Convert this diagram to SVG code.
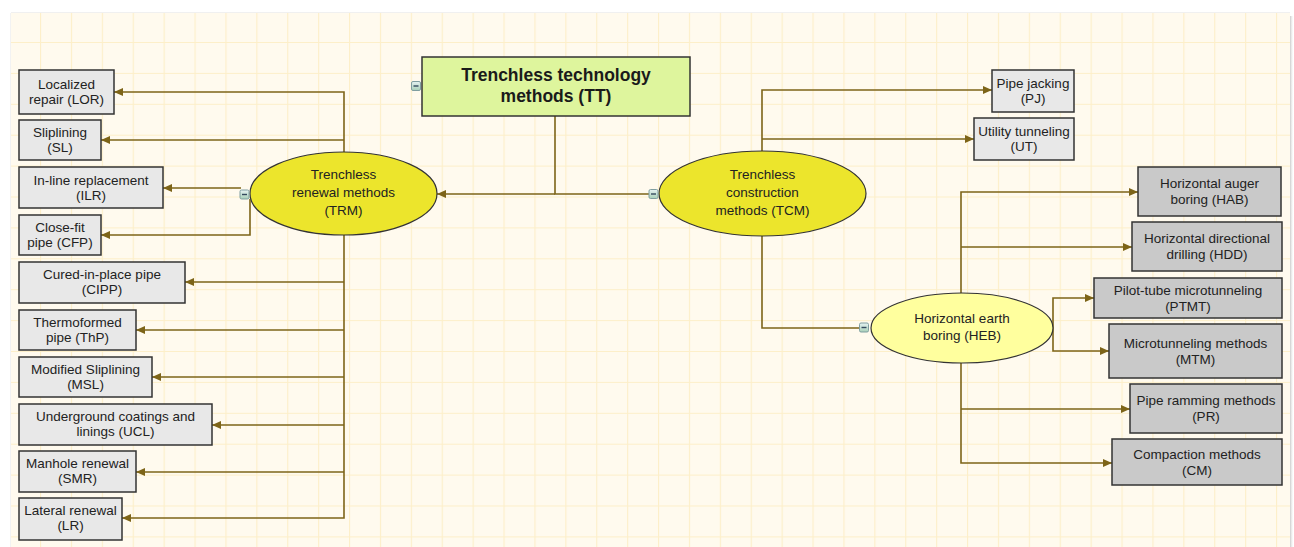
<svg xmlns="http://www.w3.org/2000/svg" width="1294" height="547" viewBox="0 0 1294 547">
<defs>
<pattern id="grid" x="40" y="42" width="30.9" height="30.9" patternUnits="userSpaceOnUse">
<rect width="30.9" height="30.9" fill="#fffaee"/>
<path d="M0.5,0 V30.9 M0,0.5 H30.9" stroke="#fdefc9" stroke-width="1.2" fill="none"/>
</pattern>
<linearGradient id="shadowR" x1="0" y1="0" x2="1" y2="0">
<stop offset="0" stop-color="#8a8a8a"/>
<stop offset="1" stop-color="#ffffff" stop-opacity="0"/>
</linearGradient>
<linearGradient id="icon" x1="0" y1="0" x2="0" y2="1">
<stop offset="0" stop-color="#e6f2f2"/>
<stop offset="1" stop-color="#a8d0b8"/>
</linearGradient>
<marker id="arr" markerWidth="10" markerHeight="9" refX="9" refY="4" orient="auto" markerUnits="userSpaceOnUse">
<path d="M0,0 L9,4 L0,8 z" fill="#7d6418"/>
</marker>
<g id="minus">
<rect x="-4.5" y="-4.5" width="9" height="9" rx="1.5" fill="url(#icon)" stroke="#7f9ea0" stroke-width="1"/>
<path d="M-2.5,0 H2.5" stroke="#34495e" stroke-width="1.4"/>
</g>
</defs>
<style>
.box{fill:#e8e8e8;stroke:#333;stroke-width:1.5}
.dbox{fill:#c9c9c9;stroke:#333;stroke-width:1.5}
.t{font-family:"Liberation Sans",Arial,sans-serif;font-size:13.5px;fill:#222;text-anchor:middle}
.tt{font-family:"Liberation Sans",Arial,sans-serif;font-size:17.5px;font-weight:bold;fill:#1a1a1a;text-anchor:middle}
.c{fill:none;stroke:#7d6418;stroke-width:1.6}
.ca{fill:none;stroke:#7d6418;stroke-width:1.6;marker-end:url(#arr)}
</style>
<rect width="1294" height="547" fill="#ffffff"/>
<rect x="1288" y="16" width="6" height="531" fill="url(#shadowR)"/>
<rect x="11" y="12" width="1279" height="2" fill="#f0f0f0"/>
<rect x="10" y="13" width="1" height="534" fill="#f2f2f2"/>
<rect x="11" y="13" width="1279" height="534" fill="url(#grid)"/>

<g id="connectors">
<path class="c" d="M555,116 V194 H650"/>
<path class="ca" d="M555,194 H437"/>
<path class="ca" d="M344,152 V92 H114"/>
<path class="ca" d="M344,140 H101"/>
<path class="ca" d="M241,188 H163"/>
<path class="ca" d="M250,199 V235 H101"/>
<path class="ca" d="M344,235 V518 H122"/>
<path class="ca" d="M344,282 H185"/>
<path class="ca" d="M344,330 H136"/>
<path class="ca" d="M344,377 H152"/>
<path class="ca" d="M344,425 H212"/>
<path class="ca" d="M344,472 H136"/>
<path class="ca" d="M762,151 V90 H992"/>
<path class="ca" d="M762,139 H974"/>
<path class="c" d="M762,236 V328 H860"/>
<path class="ca" d="M961,293 V192 H1138"/>
<path class="ca" d="M961,247 H1132"/>
<path class="ca" d="M1053,328 V298 H1094"/>
<path class="ca" d="M1053,328 V351 H1109"/>
<path class="ca" d="M961,363 V463 H1112"/>
<path class="ca" d="M961,409 H1130"/>
</g>

<g id="TT">
<rect x="422" y="57" width="268" height="59" fill="#def59d" stroke="#333" stroke-width="1.5"/>
<text class="tt" x="556" y="81">Trenchless technology</text>
<text class="tt" x="556" y="102">methods (TT)</text>
<use href="#minus" x="416" y="86"/>
</g>

<g id="TRM">
<ellipse cx="343.5" cy="193.5" rx="93.5" ry="41.5" fill="#ece52c" stroke="#333" stroke-width="1.2"/>
<text class="t" x="343.5" y="179">Trenchless</text>
<text class="t" x="343.5" y="197">renewal methods</text>
<text class="t" x="343.5" y="215">(TRM)</text>
<use href="#minus" x="244.5" y="194.5"/>
</g>

<g id="TCM">
<ellipse cx="762.5" cy="193.5" rx="103.5" ry="42.5" fill="#ece52c" stroke="#333" stroke-width="1.2"/>
<text class="t" x="762.5" y="179">Trenchless</text>
<text class="t" x="762.5" y="197">construction</text>
<text class="t" x="762.5" y="215">methods (TCM)</text>
<use href="#minus" x="653.5" y="194"/>
</g>

<g id="HEB">
<ellipse cx="962" cy="328" rx="91" ry="35" fill="#ffff9e" stroke="#333" stroke-width="1.2"/>
<text class="t" x="962" y="323">Horizontal earth</text>
<text class="t" x="962" y="340">boring (HEB)</text>
<use href="#minus" x="864" y="327.5"/>
</g>

<g id="LOR"><rect class="box" x="19" y="70" width="95" height="44"/><text class="t" x="66.5" y="89">Localized</text><text class="t" x="66.5" y="104">repair (LOR)</text></g>
<g id="SL"><rect class="box" x="19" y="120" width="82" height="40"/><text class="t" x="60" y="137">Sliplining</text><text class="t" x="60" y="152">(SL)</text></g>
<g id="ILR"><rect class="box" x="19" y="167" width="144" height="41"/><text class="t" x="91" y="185">In-line replacement</text><text class="t" x="91" y="200">(ILR)</text></g>
<g id="CFP"><rect class="box" x="19" y="215" width="82" height="40"/><text class="t" x="60" y="232">Close-fit</text><text class="t" x="60" y="247">pipe (CFP)</text></g>
<g id="CIPP"><rect class="box" x="19" y="262" width="166" height="41"/><text class="t" x="102" y="279">Cured-in-place pipe</text><text class="t" x="102" y="294">(CIPP)</text></g>
<g id="ThP"><rect class="box" x="19" y="310" width="117" height="40"/><text class="t" x="77.5" y="327">Thermoformed</text><text class="t" x="77.5" y="342">pipe (ThP)</text></g>
<g id="MSL"><rect class="box" x="19" y="357" width="133" height="40"/><text class="t" x="85.5" y="374">Modified Sliplining</text><text class="t" x="85.5" y="389">(MSL)</text></g>
<g id="UCL"><rect class="box" x="19" y="404" width="193" height="41"/><text class="t" x="115.5" y="421">Underground coatings and</text><text class="t" x="115.5" y="436">linings (UCL)</text></g>
<g id="SMR"><rect class="box" x="19" y="451" width="117" height="41"/><text class="t" x="77.5" y="468">Manhole renewal</text><text class="t" x="77.5" y="483">(SMR)</text></g>
<g id="LR"><rect class="box" x="19" y="498" width="103" height="42"/><text class="t" x="70.5" y="515">Lateral renewal</text><text class="t" x="70.5" y="530">(LR)</text></g>

<g id="PJ"><rect class="box" x="992" y="70" width="82" height="42"/><text class="t" x="1033" y="88">Pipe jacking</text><text class="t" x="1033" y="103">(PJ)</text></g>
<g id="UT"><rect class="box" x="974" y="118" width="100" height="42"/><text class="t" x="1024" y="136">Utility tunneling</text><text class="t" x="1024" y="151">(UT)</text></g>
<g id="HAB"><rect class="dbox" x="1138" y="167" width="143" height="49"/><text class="t" x="1209.5" y="188">Horizontal auger</text><text class="t" x="1209.5" y="204">boring (HAB)</text></g>
<g id="HDD"><rect class="dbox" x="1132" y="222" width="150" height="49"/><text class="t" x="1207" y="243">Horizontal directional</text><text class="t" x="1207" y="259">drilling (HDD)</text></g>
<g id="PTMT"><rect class="dbox" x="1094" y="278" width="188" height="40"/><text class="t" x="1188" y="295">Pilot-tube microtunneling</text><text class="t" x="1188" y="311">(PTMT)</text></g>
<g id="MTM"><rect class="dbox" x="1109" y="324" width="173" height="54"/><text class="t" x="1195.5" y="347.5">Microtunneling methods</text><text class="t" x="1195.5" y="363.5">(MTM)</text></g>
<g id="PR"><rect class="dbox" x="1130" y="384" width="152" height="49"/><text class="t" x="1206" y="405">Pipe ramming methods</text><text class="t" x="1206" y="421">(PR)</text></g>
<g id="CM"><rect class="dbox" x="1112" y="439" width="170" height="46"/><text class="t" x="1197" y="458.5">Compaction methods</text><text class="t" x="1197" y="474.5">(CM)</text></g>
</svg>
